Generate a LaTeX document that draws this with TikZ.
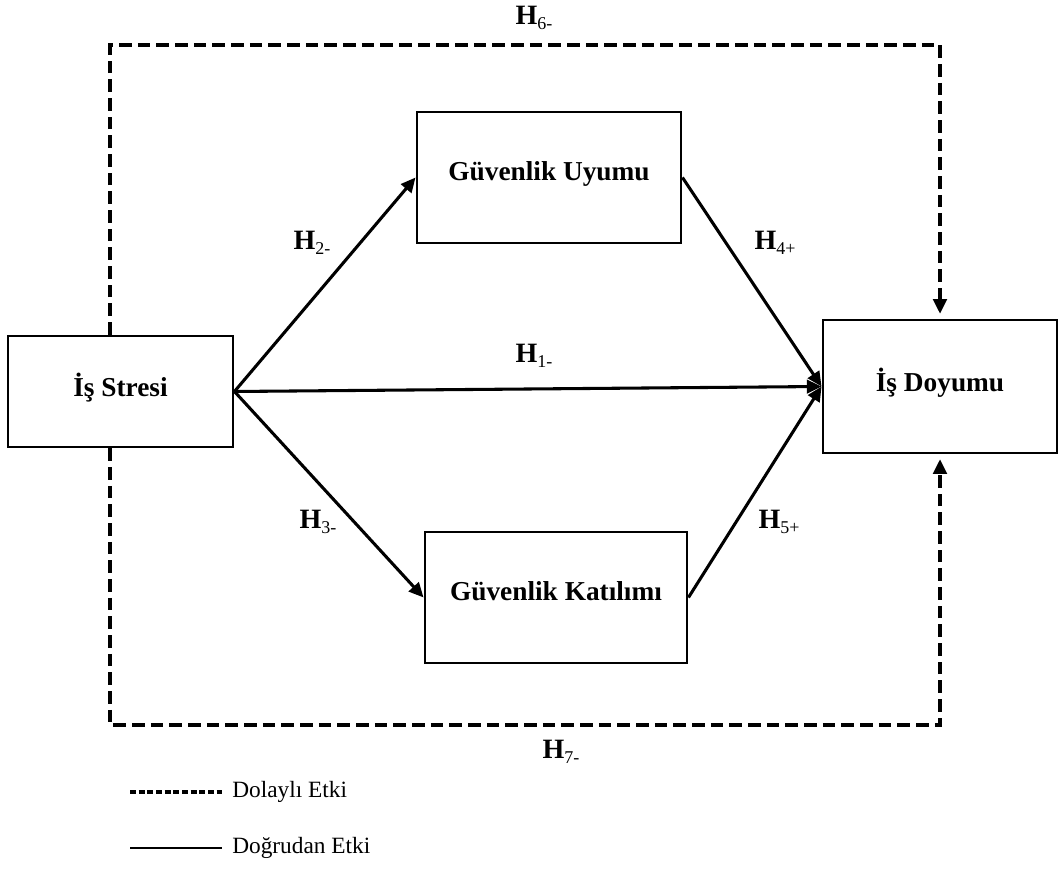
\documentclass[tikz,border=0pt]{standalone}
\usepackage{fontspec}
\setmainfont{Liberation Serif}
\usetikzlibrary{arrows.meta}
\newcommand{\Hlab}[1]{{\fontsize{21}{23}\selectfont\bfseries H}\raisebox{-3.5pt}{\fontsize{13.5}{15}\selectfont #1}}
\begin{document}
\begin{tikzpicture}[x=0.75pt,y=-0.75pt,
  box/.style={draw, line width=2.2pt, rectangle, inner sep=0pt, text depth=10pt,
    font=\fontsize{20.5}{24}\selectfont\bfseries},
  conn/.style={line width=2.3pt, -{Triangle[length=11pt,width=10pt]}},
  dsh/.style={line width=3pt, dash pattern=on 9.5pt off 4.5pt},
  dtip/.style={-{Triangle[length=11pt,width=10pt]}, shorten >=3.5pt},
  hlab/.style={inner sep=0pt},
  legtext/.style={inner sep=0pt, anchor=west, font=\fontsize{17.5}{20}\selectfont},
]
\useasboundingbox (0,0) rectangle (1060,887);

% boxes
\node[box, minimum width=168.75pt, minimum height=83.25pt] (stress) at (120.5,391.5) {İş Stresi};
\node[box, minimum width=198pt, minimum height=98.25pt] (uyum) at (549,177.5) {Güvenlik Uyumu};
\node[box, minimum width=175.5pt, minimum height=99.75pt] (doyum) at (940,386.5) {İş Doyumu};
\node[box, minimum width=196.5pt, minimum height=98.25pt] (katilim) at (556,597.5) {Güvenlik Katılımı};

% direct effects
\draw[conn] (stress.east) -- (uyum.west);
\draw[conn] (stress.east) -- (katilim.west);
\draw[conn] (stress.east) -- (doyum.west);
\draw[conn] (uyum.east) -- (doyum.west);
\draw[conn] (katilim.east) -- (doyum.west);

% indirect effects
\coordinate (tl) at (110,45);
\coordinate (tr) at (940,45);
\coordinate (bl) at (110,725);
\coordinate (br) at (940,725);
\draw[dsh, dtip] (stress.north -| tl) -- (tl) -- (tr) -- (doyum.north -| tr);
\draw[dsh, dtip] (stress.south -| bl) -- (bl) -- (br) -- (doyum.south -| br);

% labels
\node[hlab] (h6) at (534,18) {\Hlab{6-}};
\node[hlab] (h7) at (561,752) {\Hlab{7-}};
\node[hlab] (h2) at (312,243) {\Hlab{2-}};
\node[hlab] (h4) at (775,243) {\Hlab{4+}};
\node[hlab] (h1) at (534,356) {\Hlab{1-}};
\node[hlab] (h3) at (318,522) {\Hlab{3-}};
\node[hlab] (h5) at (779,522) {\Hlab{5+}};

% legend
\coordinate (la) at (130,792);
\coordinate (lb) at (222,792);
\coordinate (lc) at (130,848);
\coordinate (ld) at (222,848);
\draw[line width=2.4pt, dash pattern=on 4.4pt off 2.1pt] (la) -- (lb);
\draw[line width=1pt] (lc) -- (ld);
\node[legtext] (l1) at (232,792) {Dolaylı Etki};
\node[legtext] (l2) at (232,848) {Doğrudan Etki};
\end{tikzpicture}
\end{document}
